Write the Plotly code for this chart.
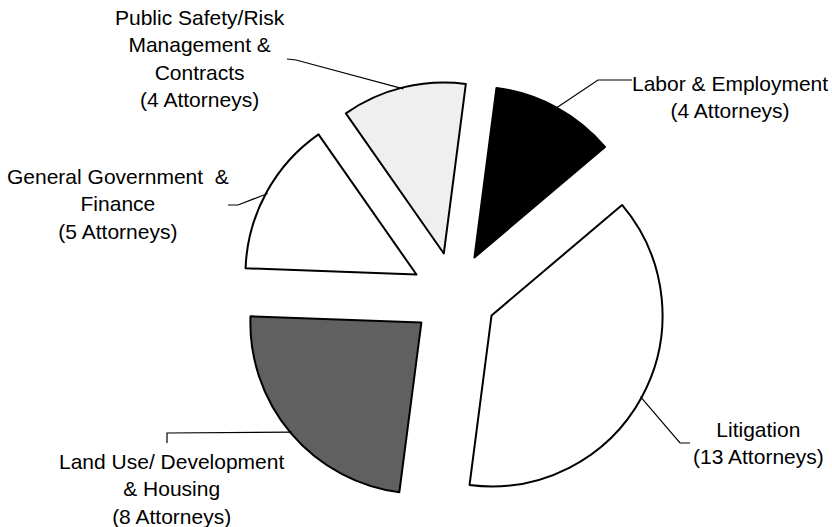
import math
import plotly.graph_objects as go

# ---- data ----
categories = ["Labor & Employment", "Litigation", "Land Use/ Development & Housing",
              "General Government & Finance", "Public Safety/Risk Management & Contracts"]
label_lines = [["Labor & Employment"],
               ["Litigation"],
               ["Land Use/ Development", "& Housing"],
               ["General Government\u00a0 &", "Finance"],
               ["Public Safety/Risk", "Management &", "Contracts"]]
attorneys = [4, 13, 8, 5, 4]

# ---- style ----
colors = ["#000000", "#ffffff", "#606060", "#ffffff", "#efefef"]
W, H = 832, 527
CX, CY, R, PULL = 454, 295, 171, 0.25
ROTATION = 7.4
FONT = dict(family="Arial, 'Liberation Sans', sans-serif", size=21, color="black")

# label centre positions (pixels) and leader-line points near the label
label_pos = [(730, 97), (758, 443), (171, 489), (118, 204), (200, 59)]
leader_near = [[(632, 80), (598, 80)],
               [(690, 443), (680, 443)],
               [(167, 443), (167, 433)],
               [(228, 205), (238, 205)],
               [(287, 59), (296, 60)]]

half = R * (1 + PULL)
dom_x = [(CX - half) / W, (CX + half) / W]
dom_y = [1 - (CY + half) / H, 1 - (CY - half) / H]

fig = go.Figure(go.Pie(
    labels=categories, values=attorneys, sort=False, direction="clockwise",
    rotation=ROTATION, pull=[PULL] * len(attorneys),
    marker=dict(colors=colors, line=dict(color="black", width=2)),
    textinfo="none", hoverinfo="label+value", showlegend=False,
    domain=dict(x=dom_x, y=dom_y),
))


def px2paper(x, y):
    return x / W, 1 - y / H


total = sum(attorneys)
cum = 0
annotations, shapes = [], []
for i, v in enumerate(attorneys):
    mid = math.radians(ROTATION + 360 * (cum + v / 2) / total)
    cum += v
    ex = CX + R * (1 + PULL) * math.sin(mid) - 1.5 * math.sin(mid)
    ey = CY - R * (1 + PULL) * math.cos(mid) + 1.5 * math.cos(mid)
    pts = list(leader_near[i]) + [(ex, ey)]
    path = ""
    for j, (x, y) in enumerate(pts):
        px, py = px2paper(x, y)
        path += ("M" if j == 0 else " L") + f"{px:.5f},{py:.5f}"
    shapes.append(dict(type="path", path=path, xref="paper", yref="paper",
                       line=dict(color="black", width=1.2)))
    text = "<br>".join(label_lines[i] + [f"({v} Attorneys)"])
    lx, ly = px2paper(*label_pos[i])
    annotations.append(dict(text=text, x=lx, y=ly, xref="paper", yref="paper",
                            xanchor="center", yanchor="middle", align="center",
                            showarrow=False, font=FONT))

fig.update_layout(
    width=W, height=H, margin=dict(l=0, r=0, t=0, b=0),
    paper_bgcolor="white", plot_bgcolor="white",
    annotations=annotations, shapes=shapes,
)

fig.write_html("out.html", config={"displayModeBar": False},
               post_script="document.body.style.margin='0';document.body.style.overflow='hidden';")
